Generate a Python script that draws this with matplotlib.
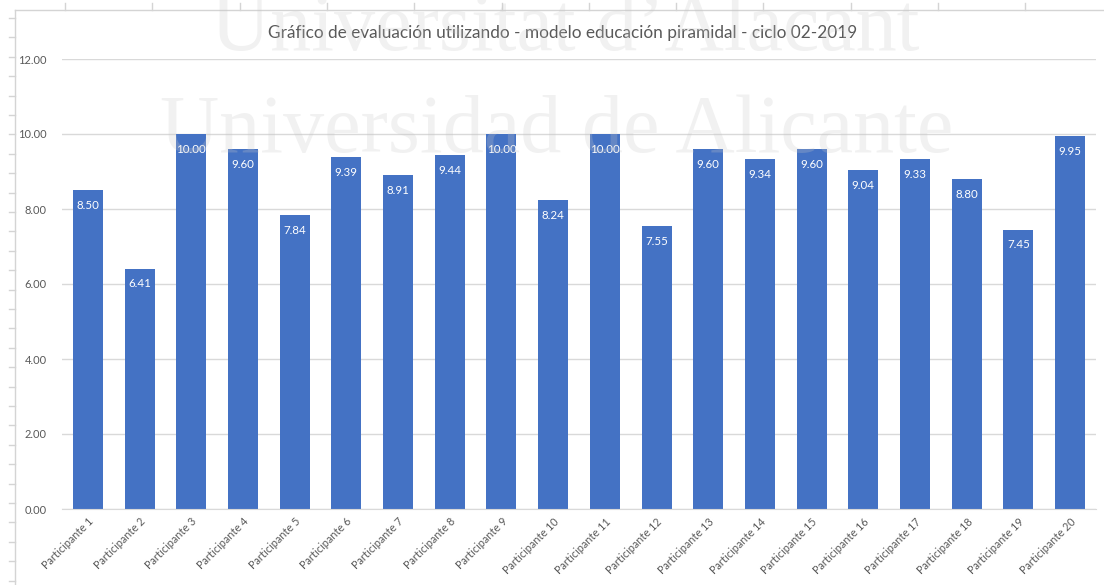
import numpy as np
import matplotlib
matplotlib.use("Agg")
from matplotlib import pyplot
from matplotlib.lines import Line2D

participantes = ["Participante {}".format(i) for i in range(1, 21)]
notas = [8.50, 6.41, 10.00, 9.60, 7.84, 9.39, 8.91, 9.44, 10.00, 8.24,
         10.00, 7.55, 9.60, 9.34, 9.60, 9.04, 9.33, 8.80, 7.45, 9.95]
y_ticks = [0, 2, 4, 6, 8, 10, 12]
titulo = "Gráfico de evaluación utilizando - modelo educación piramidal - ciclo 02-2019"

pyplot.rcParams['font.family'] = ['Lato', 'DejaVu Sans']

W, H = 1104, 585
fig = pyplot.figure(figsize=(W / 100, H / 100), dpi=100)
ax = fig.add_axes([62 / W, 76 / H, (1096 - 62) / W, (509 - 59) / H])

x = np.arange(len(notas))
bars = ax.bar(x, notas, width=0.58, color='#4472C4', zorder=2)
for b, v in zip(bars, notas):
    ax.annotate("{:.2f}".format(v), (b.get_x() + b.get_width() / 2, v),
                textcoords="offset points", xytext=(0, -11),
                ha='center', va='center', color='white', fontsize=8.3, zorder=3)

ax.set_xlim(-0.5, len(notas) - 0.5)
ax.set_ylim(0, 12)
ax.set_yticks(y_ticks)
ax.set_yticklabels(["{:.2f}".format(t) for t in y_ticks], color='#595959', fontsize=8)
ax.set_xticks(x)
ax.set_xticklabels(participantes, rotation=45, ha='right', rotation_mode='anchor',
                   color='#595959', fontsize=7.8)
ax.tick_params(length=0, pad=11, axis='y')
ax.tick_params(length=0, pad=5, axis='x')
ax.grid(axis='y', color='#D9D9D9', linewidth=1, zorder=0)
for s in ['top', 'right', 'left']:
    ax.spines[s].set_visible(False)
ax.spines['bottom'].set_color('#D9D9D9')
ax.set_axisbelow(True)

fig.text(563 / W, 1 - 33 / H, titulo, ha='center', va='center',
         fontsize=12.4, color='#595959')

# frame of the screenshot (sheet edges with ruler ticks)
edge = '#D4D4D4'
fig.add_artist(Line2D([15 / W, 15 / W], [0, 1 - 10 / H], transform=fig.transFigure, color=edge, lw=1))
fig.add_artist(Line2D([15 / W, 1], [1 - 10 / H, 1 - 10 / H], transform=fig.transFigure, color=edge, lw=1))
for py in np.arange(18, 585, 19.4):
    fig.add_artist(Line2D([9 / W, 15 / W], [1 - py / H] * 2, transform=fig.transFigure, color=edge, lw=1))
for px in np.arange(65, 1104, 87.3):
    fig.add_artist(Line2D([px / W] * 2, [1 - 3 / H, 1 - 10 / H], transform=fig.transFigure, color=edge, lw=1))

# watermark
wm = dict(ha='center', va='center', family=['Liberation Serif', 'DejaVu Serif'],
          fontsize=59, color='#C8C8C8', alpha=0.25, zorder=10)
fig.text(565 / W, 1 - 30 / H, "Universitat d\u2019Alacant", **wm)
fig.text(557 / W, 1 - 132 / H, "Universidad de Alicante", **wm)

pyplot.savefig('out.png', dpi=100)
